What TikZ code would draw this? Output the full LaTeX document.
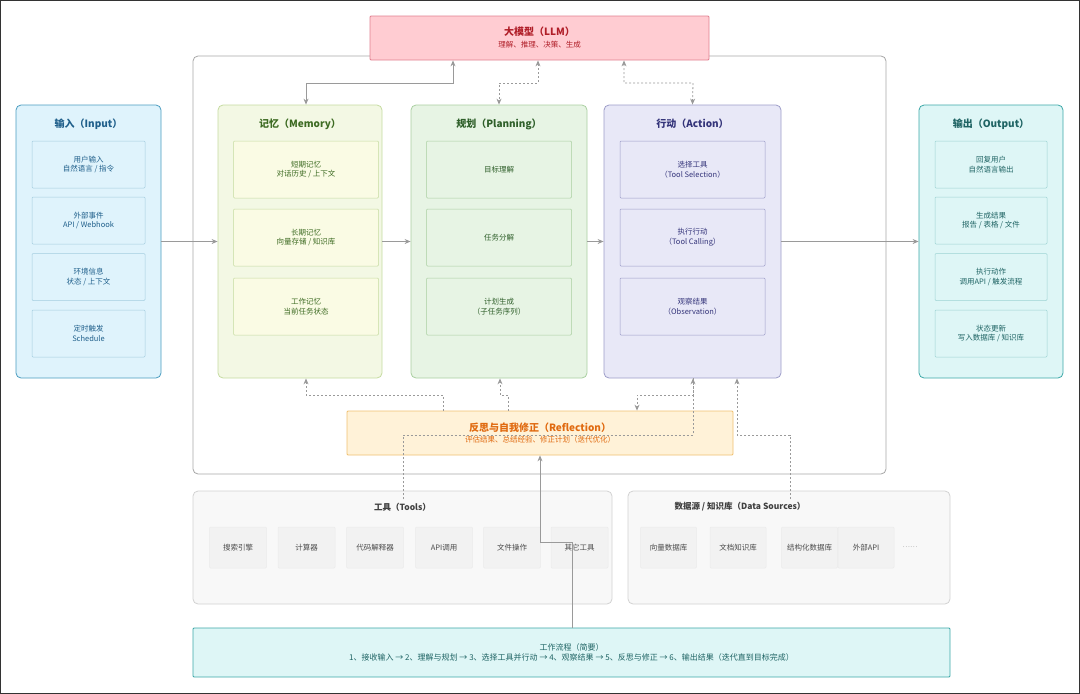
\documentclass[tikz,border=0pt]{standalone}
\usepackage{fontspec}
\setmainfont{Noto Sans CJK SC}
\usetikzlibrary{arrows.meta}
\usetikzlibrary{calc}
\definecolor{linkgray}{HTML}{9A9A9A}
\definecolor{inFill}{HTML}{DFF3FC}\definecolor{inLine}{HTML}{4A9CC0}\definecolor{inText}{HTML}{1F5F8B}
\definecolor{memFill}{HTML}{F3F8E4}\definecolor{memLine}{HTML}{C5DBA0}\definecolor{memText}{HTML}{3D6B22}
\definecolor{memItem}{HTML}{FAFBE4}
\definecolor{plFill}{HTML}{E7F4E4}\definecolor{plLine}{HTML}{A9CFA0}\definecolor{plText}{HTML}{2F5F2A}
\definecolor{acFill}{HTML}{E8E8F7}\definecolor{acLine}{HTML}{9C9CC8}\definecolor{acText}{HTML}{34347A}
\definecolor{outFill}{HTML}{DEF6F6}\definecolor{outLine}{HTML}{3CA7A7}\definecolor{outText}{HTML}{1F6464}
\definecolor{llmFill}{HTML}{FFCCD2}\definecolor{llmLine}{HTML}{E08090}\definecolor{llmText}{HTML}{B01E28}
\definecolor{rfFill}{HTML}{FFF2D8}\definecolor{rfLine}{HTML}{F0C070}\definecolor{rfText}{HTML}{E06A10}
\definecolor{toolFill}{HTML}{F8F8F8}\definecolor{toolLine}{HTML}{D2D2D2}
\tikzset{
	panel/.style={draw,rounded corners=5pt,line width=0.8pt},
	item/.style={draw,rounded corners=1pt,line width=0.5pt,align=center,font=\fontsize{7.5}{9.5}\selectfont},
	ttl/.style={font=\fontsize{10}{12}\selectfont\bfseries},
	link/.style={draw=linkgray,line width=0.8pt,-{Stealth[length=6pt,width=5pt]}},
	dlink/.style={link,dash pattern=on 2pt off 2pt},
}
\begin{document}
\begin{tikzpicture}[x=1pt,y=-1pt]
	\useasboundingbox (0,0) rectangle (1080,694);
	\draw[line width=2pt,draw=black!80] (0,0) rectangle (1080,694);
	% main container
	\draw[panel,draw=black!35] (193,56) rectangle (886,474);
	% llm
	\node[panel,fill=llmFill,draw=llmLine,rounded corners=1pt,minimum width=339pt,minimum height=44pt] (llm) at (539.5,38) {};
	\node[ttl,text=llmText] at (539.5,32) {大模型（LLM）};
	\node[text=llmText,font=\fontsize{7.5}{9}\selectfont] at (539.5,45) {理解、推理、决策、生成};
	% input
	\node[panel,fill=inFill,draw=inLine,minimum width=145pt,minimum height=273pt] (in) at (88.5,241.5) {};
	\node[ttl,text=inText] at (88.5,124) {输入（Input）};
	\foreach \y/\n/\a/\b in {164.5/i1/用户输入/{自然语言 / 指令},220.5/i2/外部事件/{API / Webhook},277/i3/环境信息/{状态 / 上下文},333.5/i4/定时触发/Schedule}
		\node[item,fill=inFill,draw=inLine!50,text=inText,minimum width=113pt,minimum height=47pt] (\n) at (88.5,\y) {\a\\\b};
	% memory
	\node[panel,fill=memFill,draw=memLine,minimum width=164pt,minimum height=273pt] (mem) at (300,241.5) {};
	\node[ttl,text=memText] at (300,124) {记忆（Memory）};
	\foreach \y/\n/\a/\b in {169.5/m1/短期记忆/{对话历史 / 上下文},237.5/m2/长期记忆/{向量存储 / 知识库},306.5/m3/工作记忆/当前任务状态}
		\node[item,fill=memItem,draw=memLine,text=memText,minimum width=145pt,minimum height=57pt] (\n) at (306,\y) {\a\\\b};
	% planning
	\node[panel,fill=plFill,draw=plLine,minimum width=176pt,minimum height=273pt] (plan) at (499,241.5) {};
	\node[ttl,text=plText] at (499,124) {规划（Planning）};
	\foreach \y/\n/\a in {169.5/p1/目标理解,237.5/p2/任务分解,306.5/p3/计划生成\\（子任务序列）}
		\node[item,fill=plFill,draw=plLine,text=plText,minimum width=145pt,minimum height=57pt] (\n) at (499,\y) {\a};
	% action
	\node[panel,fill=acFill,draw=acLine,minimum width=177pt,minimum height=273pt] (act) at (692.5,241.5) {};
	\node[ttl,text=acText] at (692.5,124) {行动（Action）};
	\foreach \y/\n/\a/\b in {169.5/a1/选择工具/（Tool Selection）,237.5/a2/执行行动/（Tool Calling）,306.5/a3/观察结果/（Observation）}
		\node[item,fill=acFill,draw=acLine,text=acText,minimum width=145pt,minimum height=57pt] (\n) at (692.5,\y) {\a\\\b};
	% output
	\node[panel,fill=outFill,draw=outLine,minimum width=144pt,minimum height=273pt] (out) at (991,241.5) {};
	\node[ttl,text=outText] at (991,124) {输出（Output）};
	\foreach \y/\n/\a/\b in {164.5/o1/回复用户/自然语言输出,220.5/o2/生成结果/{报告 / 表格 / 文件},277/o3/执行动作/{调用API / 触发流程},333.5/o4/状态更新/{写入数据库 / 知识库}}
		\node[item,fill=outFill,draw=outLine!50,text=outText,minimum width=112pt,minimum height=47pt] (\n) at (991,\y) {\a\\\b};
	% reflection
	\node[panel,fill=rfFill,draw=rfLine,rounded corners=1pt,minimum width=386pt,minimum height=44pt] (rf) at (540,433) {};
	\node[ttl,text=rfText] at (540,428) {反思与自我修正（Reflection）};
	\node[text=rfText,font=\fontsize{7.5}{9}\selectfont] at (540,440) {评估结果、总结经验、修正计划（迭代优化）};
	% tools
	\draw[panel,fill=toolFill,draw=toolLine] (193,491) rectangle (612,604);
	\node[font=\fontsize{8.5}{10}\selectfont\bfseries,text=black!75] (tt) at (402.5,507) {工具（Tools）};
	\foreach \x/\n/\a in {238/t1/搜索引擎,306.5/t2/计算器,375/t3/代码解释器,444/t4/API调用,512/t5/文件操作,579.5/t6/其它工具}
		\node[item,fill=black!5,draw=black!8,text=black!70,minimum width=57pt,minimum height=41pt] (\n) at (\x,547.5) {\a};
	% data sources
	\draw[panel,fill=toolFill,draw=toolLine] (628,491) rectangle (950,604);
	\node[font=\fontsize{8.5}{10}\selectfont\bfseries,text=black!75] (dt) at (740,507) {数据源 / 知识库（Data Sources）};
	\foreach \x/\n/\a in {668.5/d1/向量数据库,738/d2/文档知识库,809.5/d3/结构化数据库,866/d4/外部API}
		\node[item,fill=black!5,draw=black!8,text=black!70,minimum width=56pt,minimum height=41pt] (\n) at (\x,547.5) {\a};
	\node[text=black!40,font=\fontsize{7}{8}\selectfont] (dd) at (910,547.5) {……};
	% workflow
	\node[panel,fill=outFill,draw=outLine,rounded corners=1pt,minimum width=757pt,minimum height=49pt] (wf) at (571.5,652.5) {};
	\node[text=outText,font=\fontsize{8}{10}\selectfont,align=center] at (571.5,652.5) {工作流程（简要）\\1、接收输入 → 2、理解与规划 → 3、选择工具并行动 → 4、观察结果 → 5、反思与修正 → 6、输出结果（迭代直到目标完成）};
	% connectors
	\draw[link,{Stealth[length=6pt,width=5pt]}-{Stealth[length=6pt,width=5pt]}] (llm.south -| 453,0) |- (306,83) -- (mem.north -| 306,0);
	\draw[dlink,{Stealth[length=6pt,width=5pt]}-{Stealth[length=6pt,width=5pt]}] (llm.south -| 538,0) |- (499,83) -- (plan.north);
	\draw[dlink,{Stealth[length=6pt,width=5pt]}-{Stealth[length=6pt,width=5pt]}] (llm.south -| 624,0) |- (693,83) -- (act.north);
	\draw[link] (in.east) -- (mem.west);
	\draw[link] (mem.east) -- (plan.west);
	\draw[link] (plan.east) -- (act.west);
	\draw[link] (act.east) -- (out.west);
	\draw[dlink] (rf.north -| 443,0) |- (306,395) -- (mem.south -| 306,0);
	\draw[dlink] (rf.north -| 508,0) |- (500,395) -- (plan.south -| 500,0);
	\draw[dlink] (act.south -| 693,0) |- (637,395) -- (rf.north -| 637,0);
	\draw[dlink] (tt.north -| 403,0) |- (693,435) -- (act.south -| 693,0);
	\draw[dlink] (dt.north -| 790,0) |- (737,435) -- (act.south -| 737,0);
	\draw[link] (wf.north -| 572,0) |- (540,542) -- (rf.south);
\end{tikzpicture}
\end{document}
